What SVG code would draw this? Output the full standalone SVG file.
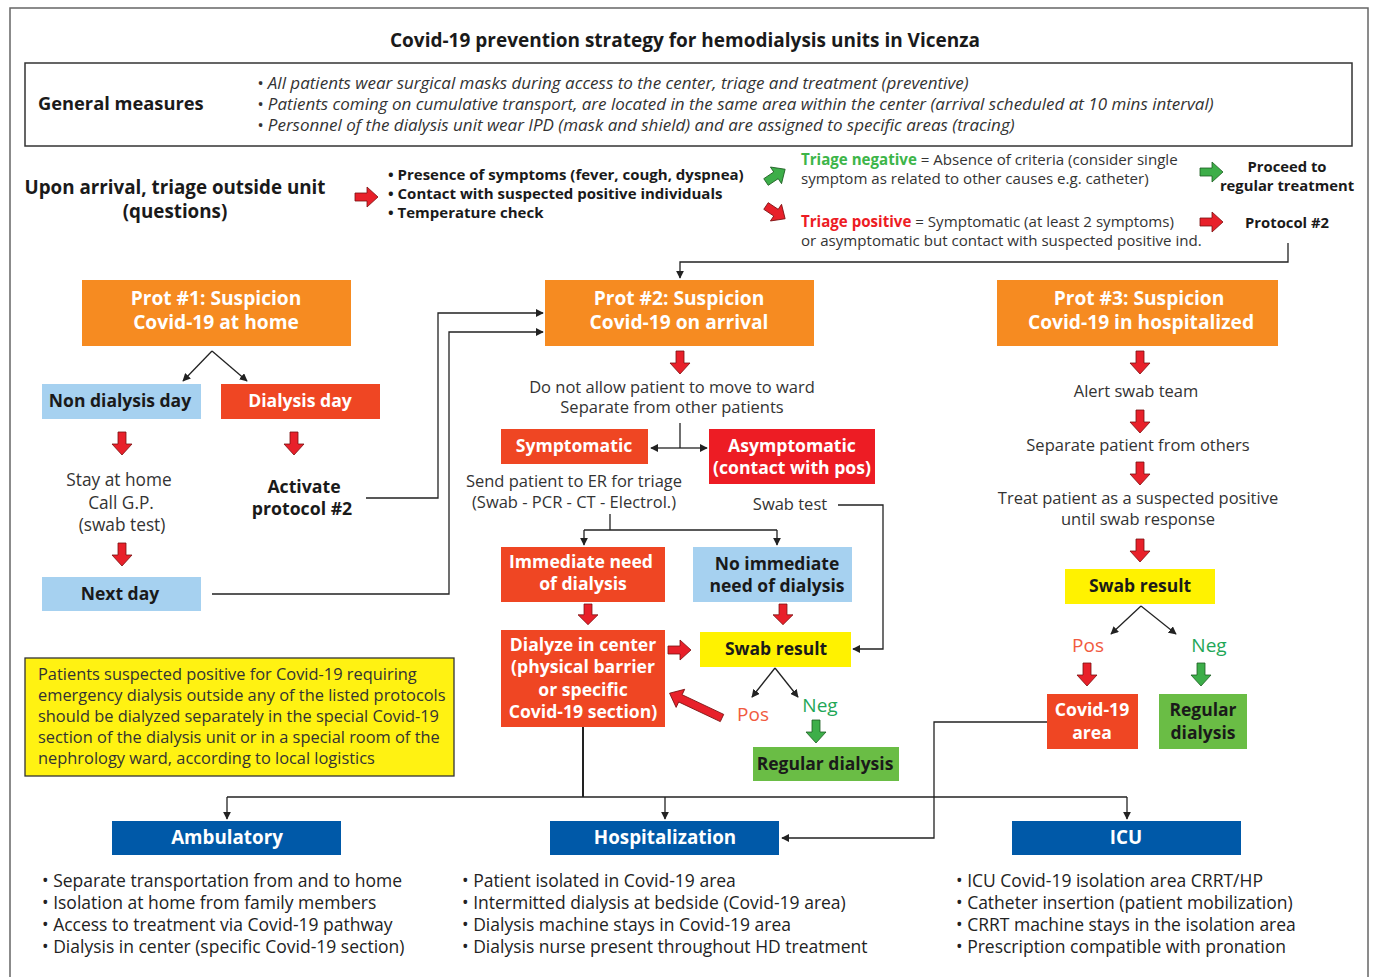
<svg xmlns="http://www.w3.org/2000/svg" width="1375" height="977" viewBox="0 0 1375 977">
<defs>
<style>
text{font-family:"Open Sans","Noto Sans","Liberation Sans",sans-serif;fill:#333;}
.b{font-weight:bold;}
.w{fill:#fff;font-weight:bold;font-size:17.6px;}
.k{fill:#1a1a1a;font-weight:bold;font-size:17.5px;}
.m{text-anchor:middle;}
.t{font-size:16.5px;}
.tr{font-size:15.1px;}
.tb{font-size:15px;font-weight:bold;fill:#1a1a1a;}
.bl{font-size:17.5px;fill:#222;}
.gi{font-size:17px;font-style:italic;}
.pr{fill:#fff;font-weight:bold;font-size:19.2px;}
.pn{font-size:19px;}
.ln{fill:none;stroke:#222;stroke-width:1.3;}
.ra{fill:#E8202A;stroke:#7a1010;stroke-width:0.8;}
.ga{fill:#3DAE49;stroke:#1d5e22;stroke-width:0.8;}
</style>
<marker id="ah" viewBox="0 0 10 10" refX="9" refY="5" markerWidth="8" markerHeight="8" orient="auto" markerUnits="userSpaceOnUse">
<path d="M0,0 L10,5 L0,10 z" fill="#222"/>
</marker>
<path id="da" d="M-4,0 h8 v12 h6 l-10,11 l-10,-11 h6 z"/>
<path id="la" d="M-4,0 h8 v46 h6 l-10,12 l-10,-12 h6 z"/>
</defs>
<rect width="1375" height="977" fill="#fff"/>
<rect x="10" y="8" width="1358" height="980" fill="none" stroke="#666" stroke-width="1.5"/>

<g id="title"><text x="685" y="47" class="b m" style="font-size:19px;fill:#1a1a1a">Covid-19 prevention strategy for hemodialysis units in Vicenza</text></g>

<g id="general">
<rect x="25" y="63" width="1327" height="83" fill="#fff" stroke="#333" stroke-width="1.5"/>
<text x="38" y="110" class="b" style="font-size:18.3px;fill:#1a1a1a">General measures</text>
<text x="257" y="89" class="gi">• All patients wear surgical masks during access to the center, triage and treatment (preventive)</text>
<text x="257" y="110" class="gi">• Patients coming on cumulative transport, are located in the same area within the center (arrival scheduled at 10 mins interval)</text>
<text x="257" y="131" class="gi">• Personnel of the dialysis unit wear IPD (mask and shield) and are assigned to specific areas (tracing)</text>
</g>

<g id="triage">
<text x="175" y="194" class="b m" style="font-size:18.8px;fill:#1a1a1a">Upon arrival, triage outside unit</text>
<text x="175" y="218" class="b m" style="font-size:18.8px;fill:#1a1a1a">(questions)</text>
<text x="388" y="180" class="tb">• Presence of symptoms (fever, cough, dyspnea)</text>
<text x="388" y="199" class="tb">• Contact with suspected positive individuals</text>
<text x="388" y="218" class="tb">• Temperature check</text>
</g>

<g id="triage-neg">
<text x="801" y="165" class="tr"><tspan class="b" style="fill:#3DB549">Triage negative</tspan> = Absence of criteria (consider single</text>
<text x="801" y="184" class="tr">symptom as related to other causes e.g. catheter)</text>
</g>
<g id="proceed">
<text x="1287" y="172" class="tb m" style="font-size:14.8px">Proceed to</text>
<text x="1287" y="191" class="tb m" style="font-size:14.8px">regular treatment</text>
</g>
<g id="triage-pos">
<text x="801" y="227" class="tr"><tspan class="b" style="fill:#ED1C24">Triage positive</tspan> = Symptomatic (at least 2 symptoms)</text>
<text x="801" y="246" class="tr">or asymptomatic but contact with suspected positive ind.</text>
</g>
<g id="protocol2"><text x="1287" y="228" class="tb m" style="font-size:14.8px">Protocol #2</text></g>

<g id="prot1">
<rect x="82" y="280" width="269" height="66" fill="#F68B21"/>
<text x="216" y="305" class="pr m">Prot #1: Suspicion</text>
<text x="216" y="329" class="pr m">Covid-19 at home</text>
</g>
<g id="prot2">
<rect x="545" y="280" width="269" height="66" fill="#F68B21"/>
<text x="679" y="305" class="pr m">Prot #2: Suspicion</text>
<text x="679" y="329" class="pr m">Covid-19 on arrival</text>
</g>
<g id="prot3">
<rect x="997" y="280" width="281" height="66" fill="#F68B21"/>
<text x="1139" y="305" class="pr m">Prot #3: Suspicion</text>
<text x="1141" y="329" class="pr m">Covid-19 in hospitalized</text>
</g>

<g id="non-dialysis-day">
<rect x="42" y="384" width="159" height="35" fill="#A6D1F0"/>
<text x="120" y="407" class="k m">Non dialysis day</text>
</g>
<g id="dialysis-day">
<rect x="221" y="384" width="159" height="35" fill="#EF4623"/>
<text x="300" y="407" class="w m">Dialysis day</text>
</g>
<g id="stay-home">
<text x="119" y="486" class="m" style="font-size:17.3px">Stay at home</text>
<text x="121" y="509" class="m" style="font-size:17.3px">Call G.P.</text>
<text x="122" y="531" class="m" style="font-size:17.3px">(swab test)</text>
</g>
<g id="activate">
<text x="304" y="493" class="b m" style="font-size:17.7px;fill:#1a1a1a">Activate</text>
<text x="302" y="515" class="b m" style="font-size:17.7px;fill:#1a1a1a">protocol #2</text>
</g>
<g id="next-day">
<rect x="42" y="577" width="159" height="34" fill="#A6D1F0"/>
<text x="120" y="600" class="k m">Next day</text>
</g>

<g id="do-not-allow">
<text x="672" y="393" class="t m">Do not allow patient to move to ward</text>
<text x="672" y="413" class="t m">Separate from other patients</text>
</g>
<g id="symptomatic">
<rect x="501" y="429" width="147" height="35" fill="#EF4623"/>
<text x="574" y="452" class="w m">Symptomatic</text>
</g>
<g id="asymptomatic">
<rect x="709" y="429" width="166" height="55" fill="#ED1C24"/>
<text x="792" y="452" class="w m">Asymptomatic</text>
<text x="792" y="474" class="w m">(contact with pos)</text>
</g>
<g id="send-er">
<text x="574" y="487" class="t m">Send patient to ER for triage</text>
<text x="574" y="508" class="t m">(Swab - PCR - CT - Electrol.)</text>
</g>
<g id="swab-test"><text x="790" y="510" class="t m">Swab test</text></g>
<g id="immediate">
<rect x="501" y="547" width="164" height="55" fill="#EF4623"/>
<text x="581" y="568" class="w m">Immediate need</text>
<text x="583" y="590" class="w m">of dialysis</text>
</g>
<g id="no-immediate">
<rect x="693" y="547" width="159" height="55" fill="#A6D1F0"/>
<text x="777" y="570" class="k m">No immediate</text>
<text x="777" y="592" class="k m">need of dialysis</text>
</g>
<g id="dialyze">
<rect x="501" y="630" width="164" height="97" fill="#EF4623"/>
<text x="583" y="651" class="w m">Dialyze in center</text>
<text x="583" y="673" class="w m">(physical barrier</text>
<text x="583" y="696" class="w m">or specific</text>
<text x="583" y="718" class="w m">Covid-19 section)</text>
</g>
<g id="swab-result-2">
<rect x="700" y="632" width="151" height="35" fill="#FFF200"/>
<text x="776" y="655" class="k m">Swab result</text>
</g>
<g id="pos-neg-2">
<text x="753" y="721" class="pn m" style="fill:#F15A3E">Pos</text>
<text x="820" y="712" class="pn m" style="fill:#1FA757">Neg</text>
</g>
<g id="regular-dialysis-2">
<rect x="753" y="747" width="146" height="34" fill="#6ABD45"/>
<text x="825" y="770" class="k m">Regular dialysis</text>
</g>

<g id="alert"><text x="1136" y="397" class="t m">Alert swab team</text></g>
<g id="separate"><text x="1138" y="451" class="t m">Separate patient from others</text></g>
<g id="treat">
<text x="1138" y="504" class="t m">Treat patient as a suspected positive</text>
<text x="1138" y="525" class="t m">until swab response</text>
</g>
<g id="swab-result-3">
<rect x="1065" y="569" width="150" height="35" fill="#FFF200"/>
<text x="1140" y="592" class="k m">Swab result</text>
</g>
<g id="pos-neg-3">
<text x="1088" y="652" class="pn m" style="fill:#F15A3E">Pos</text>
<text x="1209" y="652" class="pn m" style="fill:#1FA757">Neg</text>
</g>
<g id="covid-area">
<rect x="1047" y="694" width="91" height="55" fill="#EF4623"/>
<text x="1092" y="716" class="w m">Covid-19</text>
<text x="1092" y="739" class="w m">area</text>
</g>
<g id="regular-dialysis-3">
<rect x="1159" y="694" width="88" height="55" fill="#6ABD45"/>
<text x="1203" y="716" class="k m">Regular</text>
<text x="1203" y="739" class="k m">dialysis</text>
</g>

<g id="note">
<rect x="25" y="658" width="429" height="118" fill="#FFF212" stroke="#333" stroke-width="1.3"/>
<text x="38" y="680" style="font-size:16.4px">Patients suspected positive for Covid-19 requiring</text>
<text x="38" y="701" style="font-size:16.4px">emergency dialysis outside any of the listed protocols</text>
<text x="38" y="722" style="font-size:16.4px">should be dialyzed separately in the special Covid-19</text>
<text x="38" y="743" style="font-size:16.4px">section of the dialysis unit or in a special room of the</text>
<text x="38" y="764" style="font-size:16.4px">nephrology ward, according to local logistics</text>
</g>

<g id="ambulatory">
<rect x="112" y="821" width="229" height="34" fill="#0059A8"/>
<text x="227" y="844" class="w m" style="font-size:18.8px">Ambulatory</text>
<text x="42" y="887" class="bl">• Separate transportation from and to home</text>
<text x="42" y="909" class="bl">• Isolation at home from family members</text>
<text x="42" y="931" class="bl">• Access to treatment via Covid-19 pathway</text>
<text x="42" y="953" class="bl">• Dialysis in center (specific Covid-19 section)</text>
</g>
<g id="hospitalization">
<rect x="550" y="821" width="229" height="34" fill="#0059A8"/>
<text x="665" y="844" class="w m" style="font-size:18.8px">Hospitalization</text>
<text x="462" y="887" class="bl">• Patient isolated in Covid-19 area</text>
<text x="462" y="909" class="bl">• Intermitted dialysis at bedside (Covid-19 area)</text>
<text x="462" y="931" class="bl">• Dialysis machine stays in Covid-19 area</text>
<text x="462" y="953" class="bl">• Dialysis nurse present throughout HD treatment</text>
</g>
<g id="icu">
<rect x="1012" y="821" width="229" height="34" fill="#0059A8"/>
<text x="1126" y="844" class="w m" style="font-size:18.8px">ICU</text>
<text x="956" y="887" class="bl">• ICU Covid-19 isolation area CRRT/HP</text>
<text x="956" y="909" class="bl">• Catheter insertion (patient mobilization)</text>
<text x="956" y="931" class="bl">• CRRT machine stays in the isolation area</text>
<text x="956" y="953" class="bl">• Prescription compatible with pronation</text>
</g>

<g id="connectors">
<polyline class="ln" points="1288,243 1288,262 680,262 680,278" marker-end="url(#ah)"/>
<line class="ln" x1="212" y1="351" x2="183" y2="381" marker-end="url(#ah)"/>
<line class="ln" x1="212" y1="351" x2="247" y2="381" marker-end="url(#ah)"/>
<polyline class="ln" points="366,498 438,498 438,313 543,313" marker-end="url(#ah)"/>
<polyline class="ln" points="212,594 449,594 449,332 543,332" marker-end="url(#ah)"/>
<line class="ln" x1="680" y1="423" x2="680" y2="448"/>
<line class="ln" x1="680" y1="448" x2="651" y2="448" marker-end="url(#ah)"/>
<line class="ln" x1="680" y1="448" x2="707" y2="448" marker-end="url(#ah)"/>
<polyline class="ln" points="838,505 883,505 883,649 853,649" marker-end="url(#ah)"/>
<polyline class="ln" points="610,514 610,530"/>
<polyline class="ln" points="584,530 777,530"/>
<line class="ln" x1="584" y1="530" x2="584" y2="545" marker-end="url(#ah)"/>
<line class="ln" x1="777" y1="530" x2="777" y2="545" marker-end="url(#ah)"/>
<line class="ln" x1="775" y1="668" x2="752" y2="697" marker-end="url(#ah)"/>
<line class="ln" x1="775" y1="668" x2="798" y2="697" marker-end="url(#ah)"/>
<line class="ln" x1="1141" y1="606" x2="1111" y2="634" marker-end="url(#ah)"/>
<line class="ln" x1="1141" y1="606" x2="1176" y2="634" marker-end="url(#ah)"/>
<line class="ln" x1="583" y1="727" x2="583" y2="797" style="stroke-width:2"/>
<line class="ln" x1="227" y1="797" x2="1127" y2="797"/>
<line class="ln" x1="227" y1="797" x2="227" y2="819" marker-end="url(#ah)"/>
<line class="ln" x1="665" y1="797" x2="665" y2="819" marker-end="url(#ah)"/>
<line class="ln" x1="1127" y1="797" x2="1127" y2="819" marker-end="url(#ah)"/>
<polyline class="ln" points="1047,722 934,722 934,838 782,838" marker-end="url(#ah)"/>

<use href="#da" class="ra" transform="translate(355,197) rotate(-90)"/>
<use href="#da" class="ga" transform="translate(766,182) rotate(-123.7)"/>
<use href="#da" class="ra" transform="translate(766,206) rotate(-56.3)"/>
<use href="#da" class="ga" transform="translate(1200,172) rotate(-90)"/>
<use href="#da" class="ra" transform="translate(1200,222) rotate(-90)"/>
<use href="#da" class="ra" transform="translate(122,432)"/>
<use href="#da" class="ra" transform="translate(294,432)"/>
<use href="#da" class="ra" transform="translate(122,543)"/>
<use href="#da" class="ra" transform="translate(680,351)"/>
<use href="#da" class="ra" transform="translate(588,604) scale(1,0.9)"/>
<use href="#da" class="ra" transform="translate(783,604) scale(1,0.9)"/>
<use href="#da" class="ra" transform="translate(668,650) rotate(-90)"/>
<use href="#la" class="ra" transform="translate(722,718) rotate(115.3)"/>
<use href="#da" class="ga" transform="translate(816,720)"/>
<use href="#da" class="ra" transform="translate(1140,351)"/>
<use href="#da" class="ra" transform="translate(1140,410)"/>
<use href="#da" class="ra" transform="translate(1140,462)"/>
<use href="#da" class="ra" transform="translate(1140,539)"/>
<use href="#da" class="ra" transform="translate(1087,663)"/>
<use href="#da" class="ga" transform="translate(1201,663)"/>
</g>
</svg>
